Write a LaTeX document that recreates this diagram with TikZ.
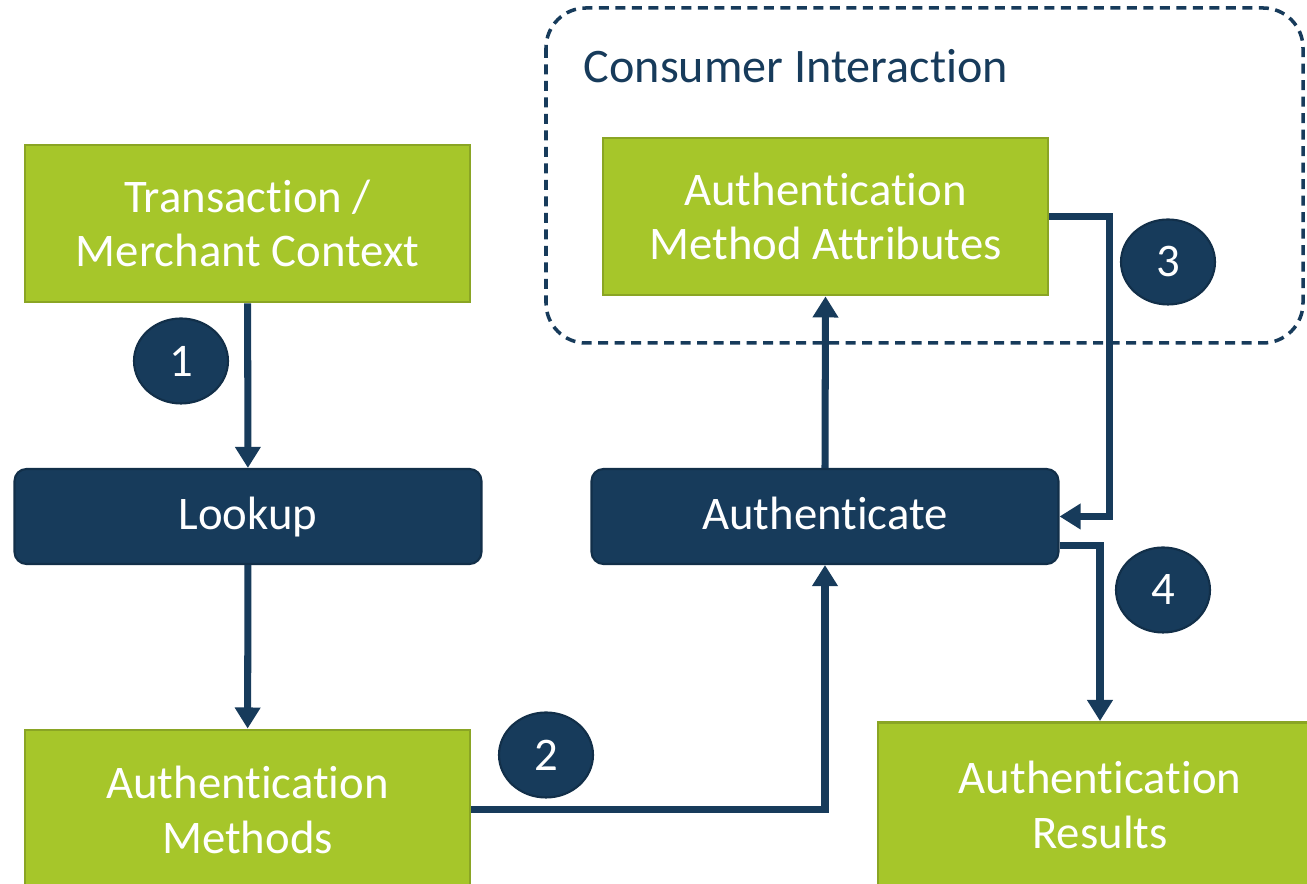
\documentclass[tikz,border=0pt]{standalone}
\usepackage{fontspec}
\setmainfont{Carlito}[Ligatures=NoCommon]
\usepackage{xcolor}
\usetikzlibrary{arrows.meta,shapes.geometric}
\definecolor{leaf}{HTML}{A6C62A}
\definecolor{leafedge}{HTML}{8AA524}
\definecolor{navy}{HTML}{173B5B}

\tikzset{
    greenbox/.style={draw=leafedge, line width=0.8pt, fill=leaf, text=white, align=center,
        minimum width=4.45cm, minimum height=1.57cm, inner sep=0pt},
    navybox/.style={draw=navy!80!black, line width=0.6pt, fill=navy, text=white, rounded corners=0.12cm,
        minimum width=4.67cm, minimum height=0.95cm, inner sep=0pt, text height=2ex, text depth=0.4ex},
    badge/.style={ellipse, draw=navy!80!black, line width=0.6pt, fill=navy, text=white,
        minimum width=0.94cm, minimum height=0.85cm, inner sep=0pt},
    flow/.style={draw=navy, line width=2pt, -{Triangle[width=7pt,length=6pt]}},
}

\begin{document}
\begin{tikzpicture}[font=\fontsize{13.3}{15.4}\selectfont]
        \useasboundingbox (0,0) rectangle (13.07,8.84);
        % consumer interaction frame
        \draw[navy, line width=1pt, dash pattern=on 0.1cm off 0.065cm, rounded corners=0.4cm]
            (5.46,8.76) rectangle (13.03,5.41);
        \node[anchor=west,text=navy,inner sep=0pt] (frame) at (5.83,8.18) {\fontsize{13.7}{16}\selectfont Consumer Interaction};

        \node[greenbox] (ctx) at (2.475,6.605) {Transaction /\\Merchant Context};
        \node[navybox] (lookup) at (2.48,3.675) {Lookup};
        \node[greenbox, minimum height=1.6cm] (methods) at (2.475,0.74) {Authentication\\Methods};
        \node[navybox] (auth) at (8.25,3.675) {Authenticate};
        \node[greenbox] (attrs) at (8.255,6.675) {Authentication\\Method Attributes};
        \node[greenbox, minimum width=4.44cm, minimum height=1.65cm] (results) at (11.0,0.79) {Authentication\\Results};

        \draw[flow] (ctx) -- (lookup);
        \draw[flow] (lookup) -- (methods);
        \draw[flow] (methods.east) -| (auth.south);
        \draw[flow] (auth.north) -- (attrs.south);
        \draw[flow] (attrs.east) -- ++(0.6,0) |- (auth.east);
        \draw[flow] ([yshift=-0.29cm]auth.east) -| (results.north);

        \node[badge] (n1) at (1.81,5.23) {1};
        \node[badge] (n2) at (5.46,1.29) {2};
        \node[badge] (n3) at (11.68,6.22) {3};
        \node[badge] (n4) at (11.63,2.94) {4};
    \end{tikzpicture}
\end{document}
